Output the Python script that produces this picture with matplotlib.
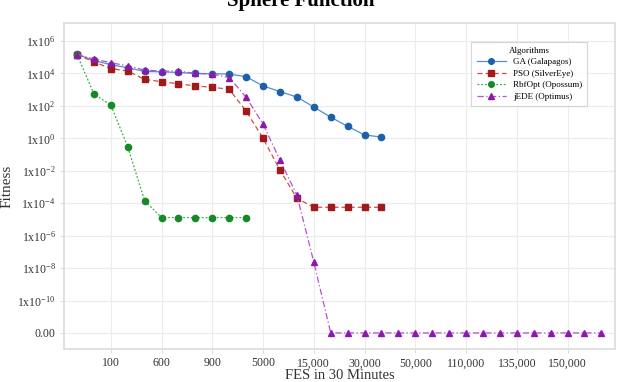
import matplotlib.pyplot as plt
import numpy as np

plt.rcParams['font.family'] = ['Liberation Serif', 'DejaVu Serif']
plt.rcParams['mathtext.fontset'] = 'custom'
plt.rcParams['mathtext.rm'] = 'Liberation Serif'
plt.rcParams['mathtext.it'] = 'Liberation Serif:italic'

# x categories (FES checkpoints), one label every third point
tick_idx = [2, 5, 8, 11, 14, 17, 20, 23, 26, 29]
tick_labels = ['100', '600', '900', '5000', '15,000', '30,000', '50,000',
               '110,000', '135,000', '150,000']

# fitness values (0 is drawn on the "0.00" row)
ga = [1.5e5, 6.3e4, 3.5e4, 2.2e4, 1.35e4, 1.25e4, 1.15e4, 1.0e4, 9.6e3, 9.1e3,
      6.3e3, 1.7e3, 7.6e2, 3.5e2, 85, 20, 5.5, 1.6, 1.2]
pso = [1.45e5, 5.1e4, 2.0e4, 1.4e4, 4.3e3, 3.1e3, 2.3e3, 1.7e3, 1.4e3, 1.05e3,
       48, 1.0, 1.1e-2, 2.0e-4, 5.6e-5, 5.6e-5, 5.6e-5, 5.6e-5, 5.6e-5]
rbf = [1.45e5, 540, 110, 0.3, 1.4e-4, 1.3e-5, 1.3e-5, 1.3e-5, 1.3e-5, 1.3e-5, 1.3e-5]
jede = [1.45e5, 7.8e4, 4.6e4, 2.9e4, 1.6e4, 1.4e4, 1.4e4, 1.0e4, 9.1e3, 5.6e3,
        340, 7.6, 4.5e-2, 3.2e-4, 2.3e-8] + [0.0] * 17

ZERO = 1e-12  # row labelled 0.00


def prep(vals):
    v = np.array(vals, dtype=float)
    return np.arange(len(v)), np.where(v <= 0, ZERO, v)


fig = plt.figure(figsize=(6.23, 3.82), dpi=100)
ax = fig.add_axes([0.1027, 0.0864, 0.8843, 0.8534])

series = [
    (ga, 'GA (Galapagos)', '#4f8fd0', '#1d5fa8', 'o', '-'),
    (pso, 'PSO (SilverEye)', '#c8504a', '#a11a1a', 's', (0, (4, 2.5))),
    (rbf, 'RbfOpt (Opossum)', '#3fae4a', '#178a28', 'o', (0, (1.5, 1.5))),
    (jede, 'jEDE (Optimus)', '#b54fd4', '#8c19ad', '^', (0, (5, 2, 1, 2))),
]
for vals, lab, lc, mc, mk, ls in series:
    x, y = prep(vals)
    ax.plot(x, y, color=lc, linestyle=ls, linewidth=0.9, marker=mk,
            markersize=4.5, markerfacecolor=mc, markeredgecolor=mc, label=lab)

ax.set_yscale('log')
yt = [1e6, 1e4, 1e2, 1e0, 1e-2, 1e-4, 1e-6, 1e-8, 1e-10, ZERO]
ylab = [r'1x10$^{6}$', r'1x10$^{4}$', r'1x10$^{2}$', r'1x10$^{0}$',
        r'1x10$^{-2}$', r'1x10$^{-4}$', r'1x10$^{-6}$', r'1x10$^{-8}$',
        r'1x10$^{-10}$', '0.00']
ax.set_yticks(yt)
ax.set_yticklabels(ylab)
ax.minorticks_off()
ax.set_ylim(10 ** -12.99, 10 ** 7.11)
ax.set_xticks(tick_idx)
ax.set_xticklabels(tick_labels)
ax.set_xlim(-0.77, 31.8)

ax.grid(True, color='#ececec', linewidth=0.8)
ax.set_axisbelow(True)
for s in ax.spines.values():
    s.set_color('#dcdcdc')
    s.set_linewidth(1.2)
ax.tick_params(axis='both', length=3, color='#dcdcdc', labelsize=8.5,
               labelcolor='#333333')
ax.tick_params(axis='y', pad=3)
ax.tick_params(axis='x', pad=3)

ax.set_ylabel('Fitness', fontsize=11, color='#333333', labelpad=3)
ax.set_xlabel('FES in 30 Minutes', fontsize=10.5, color='#333333', labelpad=0)
fig.text(0.482, 1 - 6 / 382, 'Sphere Function', fontsize=15, fontweight='bold',
         ha='center', va='baseline')

leg = ax.legend(title='Algorithms', loc='upper left', bbox_to_anchor=(0.731, 0.957),
                fontsize=6.5, title_fontsize=6.5, frameon=True, fancybox=False,
                handlelength=3.2, labelspacing=0.35, borderpad=0.6, markerscale=0.9)
leg.get_frame().set_edgecolor('#cccccc')
leg.get_frame().set_linewidth(0.8)

plt.savefig('out.png', dpi=100)
